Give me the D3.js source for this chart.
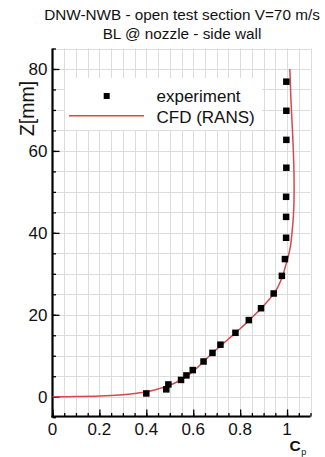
<!DOCTYPE html>
<html>
<head>
<meta charset="utf-8">
<script src="https://cdn.jsdelivr.net/npm/d3@7"></script>
<style>
  html, body { margin: 0; padding: 0; background: #fff; }
  svg { display: block; font-family: "Liberation Sans", Arial, Helvetica, sans-serif; }
</style>
</head>
<body>
<svg id="chart" width="325" height="457"></svg>
<script>
// Measured wall boundary-layer profile (experiment)
const expCp = [0.400, 0.485, 0.494, 0.548, 0.571, 0.598, 0.644, 0.682, 0.716, 0.780, 0.837,
               0.889, 0.943, 0.978, 0.991, 0.996, 0.996, 0.996, 0.997, 0.997, 0.997, 0.997];
const expZ  = [0.8, 1.8, 3.0, 4.1, 5.2, 6.5, 8.6, 10.7, 12.7, 15.6, 18.7,
               21.6, 25.2, 29.5, 33.6, 38.8, 43.9, 48.8, 55.9, 62.7, 69.8, 76.9];

// RANS prediction
const cfdCp = [0.000, 0.100, 0.200, 0.300, 0.350, 0.400, 0.450, 0.500, 0.550, 0.600, 0.650,
               0.700, 0.750, 0.800, 0.850, 0.900, 0.950, 0.980, 0.993, 1.005, 1.014, 1.021,
               1.027, 1.030, 1.029, 1.024, 1.017, 1.012];
const cfdZ  = [0, 0.03, 0.15, 0.5, 0.8, 1.2, 1.9, 2.8, 4.2, 6.2, 8.9,
               11.6, 14.1, 16.6, 19.3, 22.2, 25.7, 29.3, 31.8, 34.2, 36.5, 40,
               44, 49, 56, 64, 72, 80];

const xTickVals = [0, 0.2, 0.4, 0.6, 0.8, 1];
const xTickText = ["0", "0.2", "0.4", "0.6", "0.8", "1"];
const yTickVals = [0, 20, 40, 60, 80];

const titleLines = ["DNW-NWB - open test section V=70 m/s", "BL @ nozzle - side wall"];
const legendLabels = ["experiment", "CFD (RANS)"];

const svg = d3.select("#chart");

const x = d3.scaleLinear().domain([0, 1.1]).range([52.5, 310.5]);
const y = d3.scaleLinear().domain([-5, 85]).range([417.2, 48.5]);

// grid
const gridX = d3.range(1, 23).map(i => i * 0.05);
const gridY = d3.range(-1, 18).map(i => i * 5);
const grid = svg.append("g").attr("stroke", "#dcdcdc").attr("stroke-width", 1);
grid.selectAll("line.gx").data(gridX).join("line")
  .attr("x1", d => Math.round(x(d)) + 0.5).attr("x2", d => Math.round(x(d)) + 0.5)
  .attr("y1", y(85)).attr("y2", y(-5));
grid.selectAll("line.gy").data(gridY).join("line")
  .attr("y1", d => Math.round(y(d)) + 0.5).attr("y2", d => Math.round(y(d)) + 0.5)
  .attr("x1", x(0)).attr("x2", x(1.1));

// axes with inward ticks
const xAxis = d3.axisTop(x).tickValues(xTickVals).tickSize(7).tickFormat("");
const xMinor = d3.axisTop(x).tickValues(d3.range(0, 23).map(i => i * 0.05)).tickSize(3.5).tickFormat("");
const yAxis = d3.axisRight(y).tickValues(yTickVals).tickSize(7).tickFormat("");
const yMinor = d3.axisRight(y).tickValues(d3.range(-1, 18).map(i => i * 5)).tickSize(3.5).tickFormat("");

const axisY0 = y(-5) - 0.7;
[xMinor, xAxis].forEach(a => {
  const g = svg.append("g").attr("transform", `translate(0,${axisY0})`).call(a);
  g.select(".domain").remove();
  g.selectAll("line").attr("stroke", "#000").attr("stroke-width", 1.3);
});
[yMinor, yAxis].forEach(a => {
  const g = svg.append("g").attr("transform", `translate(${x(0)},0)`).call(a);
  g.select(".domain").remove();
  g.selectAll("line").attr("stroke", "#000").attr("stroke-width", 1.3);
});
svg.append("line").attr("x1", x(0)).attr("x2", x(0)).attr("y1", y(85)).attr("y2", axisY0 + 1)
  .attr("stroke", "#000").attr("stroke-width", 2.2);
svg.append("line").attr("x1", x(0) - 1.1).attr("x2", x(1.1)).attr("y1", axisY0).attr("y2", axisY0)
  .attr("stroke", "#000").attr("stroke-width", 2.2);

// tick labels
svg.selectAll("text.xt").data(xTickVals).join("text")
  .attr("x", d => x(d)).attr("y", 434.5)
  .attr("text-anchor", "middle").attr("font-size", 17).attr("fill", "#111")
  .text((d, i) => xTickText[i]);
svg.selectAll("text.yt").data(yTickVals).join("text")
  .attr("x", 47.5).attr("y", d => y(d) + 6)
  .attr("text-anchor", "end").attr("font-size", 17).attr("fill", "#111")
  .text(d => d);

// axis titles
svg.append("text").attr("transform", "translate(34,108.5) rotate(-90)")
  .attr("text-anchor", "middle").attr("font-size", 19.5).attr("fill", "#111").text("Z[mm]");
const cp = svg.append("text").attr("x", 289.5).attr("y", 450.5).attr("fill", "#111");
cp.append("tspan").attr("font-size", 15.5).attr("font-weight", "bold").text("C");
cp.append("tspan").attr("font-size", 9).attr("dy", 4).attr("dx", 0.5).text("p");

// title
svg.selectAll("text.title").data(titleLines).join("text")
  .attr("x", 182).attr("y", (d, i) => 20 + i * 19)
  .attr("text-anchor", "middle").attr("font-size", 15.3).attr("fill", "#111")
  .text(d => d);

// CFD curve
const cfd = cfdCp.map((c, i) => [c, cfdZ[i]]);
svg.append("path").datum(cfd)
  .attr("fill", "none").attr("stroke", "#d9474a").attr("stroke-width", 1.5)
  .attr("d", d3.line().x(d => x(d[0])).y(d => y(d[1])).curve(d3.curveCatmullRom.alpha(0.5)));

// experiment markers
const ms = 6.5;
svg.selectAll("rect.exp").data(expCp.map((c, i) => [c, expZ[i]])).join("rect")
  .attr("x", d => x(d[0]) - ms / 2).attr("y", d => y(d[1]) - ms / 2)
  .attr("width", ms).attr("height", ms).attr("fill", "#000");

// legend
const lg = svg.append("g");
lg.append("rect").attr("x", 65).attr("y", 78).attr("width", 197).attr("height", 52).attr("fill", "#fff");
lg.append("rect").attr("x", 106.7 - 3).attr("y", 96 - 3).attr("width", 6).attr("height", 6).attr("fill", "#000");
lg.append("line").attr("x1", 69).attr("x2", 144).attr("y1", 115.7).attr("y2", 115.7)
  .attr("stroke", "#d9474a").attr("stroke-width", 1.5);
lg.selectAll("text").data(legendLabels).join("text")
  .attr("x", 156.5).attr("y", (d, i) => 101.7 + i * 21.3)
  .attr("font-size", 17).attr("fill", "#111").text(d => d);
</script>
</body>
</html>
